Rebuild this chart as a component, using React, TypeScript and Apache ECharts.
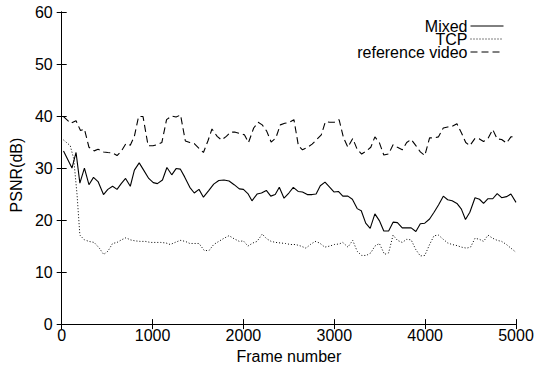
import React, { useEffect, useRef } from "react";
import * as echarts from "echarts";

const xTicks = [0, 1000, 2000, 3000, 4000, 5000];
const yTicks = [0, 10, 20, 30, 40, 50, 60];

const mixedFrames = [20,113,158,200,250,300,350,400,460,508,560,609,655,703,755,800,853,902,958,1008,1053,1109,1158,1211,1259,1305,1353,1410,1459,1511,1560,1620,1673,1729,1786,1842,1898,1955,2000,2049,2094,2150,2199,2252,2301,2350,2395,2447,2500,2549,2602,2650,2703,2756,2800,2846,2898,2951,2996,3045,3094,3150,3199,3252,3297,3346,3395,3447,3496,3545,3598,3647,3695,3748,3797,3846,3898,3947,3996,4049,4098,4147,4200,4248,4297,4350,4399,4444,4492,4549,4598,4643,4692,4744,4793,4842,4895,4944,5000];
const mixedPSNR = [33.3,30,33,27.1,30,26.8,28.2,27.4,24.9,25.9,26.5,25.9,27,28,26.5,29.6,31,29.6,28,27.2,27,27.7,30.1,28.7,29.9,29.8,28.3,26.3,25.2,25.9,24.4,25.7,26.9,27.6,27.7,27.5,26.8,26,25.9,25.1,23.7,25,25.2,25.7,24.6,24.9,26.3,24.2,25.2,26.3,25.5,25.4,24.9,24.9,25,26.6,27.3,26.3,25.4,25.5,24.6,24.6,24,22.2,21.8,19.4,18.4,21.2,19.9,17.9,17.9,19.6,19.5,18.5,18.5,18.5,17.8,19.3,19.4,20.2,21.5,22.9,24.6,23.9,23.7,23.2,22.1,20.1,21.5,24.3,24,23.2,24.1,24.1,25.1,24.3,24.5,25,23.4];

const tcpFrames = [20,94,132,169,200,250,300,357,414,462,508,560,609,658,707,755,808,865,921,977,1034,1090,1147,1195,1248,1305,1361,1410,1459,1511,1571,1624,1673,1729,1786,1842,1898,1955,2000,2049,2105,2150,2207,2256,2305,2357,2406,2462,2519,2575,2632,2688,2737,2789,2838,2895,2951,3000,3053,3094,3150,3203,3252,3301,3353,3402,3447,3496,3553,3598,3647,3695,3748,3797,3846,3898,3947,3996,4049,4098,4147,4200,4248,4297,4350,4399,4455,4500,4549,4598,4643,4692,4744,4793,4842,4895,4944,5000];
const tcpPSNR = [35.4,34.3,31.8,24.9,17.1,16.2,15.9,15.7,14.6,13.4,14,15.5,15.7,16.2,16.6,16.2,16,15.9,15.9,15.7,15.7,15.7,15.6,15.3,15.7,16.1,15.9,15.5,15.5,15.5,14.1,14.2,15.3,15.9,16.5,17,16.4,15.9,16,15,15.6,15.9,17.3,16.4,15.9,15.7,15.6,15.5,15.3,15.3,15,14.6,15.3,15.9,15.6,14.8,15,15.3,15.4,15.7,14.8,16.1,14,13.2,13.2,13.7,15,15.5,13.4,13.7,17.1,16.1,15.7,16.3,16.2,14.3,13.1,13.2,15.3,17,17.1,16.3,15.6,15.3,15.1,14.8,14.6,14.8,16.5,16.3,15.9,17.1,16.5,16.1,15.9,15.3,14.6,13.8];

const refFrames = [20,100,158,207,250,300,357,400,460,508,560,609,658,707,755,800,846,895,951,1004,1053,1102,1154,1211,1259,1308,1361,1410,1459,1511,1560,1609,1654,1711,1759,1812,1861,1910,1966,2011,2056,2113,2162,2207,2256,2305,2357,2406,2455,2508,2556,2605,2650,2707,2756,2808,2857,2902,2951,3000,3053,3102,3150,3203,3252,3301,3353,3402,3447,3496,3545,3598,3647,3695,3748,3797,3846,3898,3947,3996,4049,4098,4147,4200,4248,4297,4350,4399,4447,4492,4549,4598,4643,4692,4744,4793,4842,4895,4944,5000];
const refPSNR = [39.9,38.6,39.1,37.2,37.5,34,33.3,33.6,33.1,33,32.9,32.4,33.3,34.7,34.4,36.1,39.9,39.9,34.3,34.3,34.5,34.9,39.3,40,39.8,40.2,35.2,34.9,34.7,33.8,33,35.2,37.5,36.1,35.4,36.1,36.9,36.9,36.6,36.4,34.9,37.7,38.8,38.3,37.1,35,35.8,38.3,38.6,38.8,39.3,34.3,33.5,34,34.6,35.5,36.4,38.9,38.8,38.8,39.3,35.8,34,35.7,33.6,32.7,33.3,34,36,34.9,32.5,32.7,34.5,34,33.5,34.9,35.5,34.3,33.1,32.4,35.8,35.8,36,37.7,37.9,38,38.5,36.8,34.9,34.3,35.7,35.6,35.1,35.7,37.4,35.6,35.5,34.8,36,36.1];

const seriesNames = ["Mixed", "TCP", "reference video"];

const FONT = "Liberation Sans, Arial, Helvetica, sans-serif";

export default function App() {
  const ref = useRef<HTMLDivElement>(null);
  useEffect(() => {
    if (!ref.current) return;
    const chart = echarts.init(ref.current, undefined, { renderer: "svg" });
    const pairs = (f: number[], v: number[]) => f.map((x, i) => [x, v[i]]);
    const tick = { show: true, inside: true, length: 5, lineStyle: { color: "#000", width: 1 } };
    const line = { show: true, lineStyle: { color: "#000", width: 1 } };
    chart.setOption({
      animation: false,
      backgroundColor: "#fff",
      textStyle: { fontFamily: FONT, color: "#000" },
      grid: { left: 58, right: 26, top: 12, bottom: 35, containLabel: false },
      legend: {
        data: seriesNames,
        orient: "vertical",
        right: 38,
        top: 18,
        align: "right",
        padding: 0,
        itemGap: -3,
        itemWidth: 33,
        itemHeight: 13,
        itemStyle: { opacity: 0 },
        lineStyle: { width: 1 },
        textStyle: { fontSize: 16, lineHeight: 13, color: "#000", fontFamily: FONT, padding: [0, -2, 0, 0] },
        selectedMode: false,
      },
      xAxis: [
        {
          type: "value",
          min: 0,
          max: 5000,
          interval: 1000,
          position: "bottom",
          name: "Frame number",
          nameLocation: "middle",
          nameGap: 14,
          nameTextStyle: { fontSize: 16, color: "#000", fontFamily: FONT },
          axisLine: line,
          axisTick: tick,
          splitLine: { show: false },
          axisLabel: { fontSize: 16, color: "#000", margin: 3, fontFamily: FONT,
            formatter: (v: number) => (xTicks.includes(v) ? String(v) : "") },
        },
        {
          type: "value",
          min: 0,
          max: 5000,
          interval: 1000,
          position: "top",
          axisLine: line,
          axisTick: tick,
          splitLine: { show: false },
          axisLabel: { show: false },
        },
      ],
      yAxis: [
        {
          type: "value",
          min: 0,
          max: 60,
          interval: 10,
          position: "left",
          name: "PSNR(dB)",
          nameLocation: "middle",
          nameGap: 36,
          nameTextStyle: { fontSize: 16, color: "#000", fontFamily: FONT, padding: [0, 14, 0, 0] },
          axisLine: line,
          axisTick: tick,
          splitLine: { show: false },
          axisLabel: { fontSize: 16, color: "#000", margin: 9, fontFamily: FONT,
            formatter: (v: number) => (yTicks.includes(v) ? String(v) : "") },
        },
        {
          type: "value",
          min: 0,
          max: 60,
          interval: 10,
          position: "right",
          axisLine: line,
          axisTick: tick,
          splitLine: { show: false },
          axisLabel: { show: false },
        },
      ],
      series: [
        {
          name: "Mixed",
          type: "line",
          data: pairs(mixedFrames, mixedPSNR),
          showSymbol: false,
          symbol: "none",
          lineStyle: { color: "#000", width: 1.1, type: "solid" },
          itemStyle: { color: "#000" },
        },
        {
          name: "TCP",
          type: "line",
          data: pairs(tcpFrames, tcpPSNR),
          showSymbol: false,
          symbol: "none",
          lineStyle: { color: "#000", width: 1, type: [1, 2] },
          itemStyle: { color: "#000" },
        },
        {
          name: "reference video",
          type: "line",
          data: pairs(refFrames, refPSNR),
          showSymbol: false,
          symbol: "none",
          lineStyle: { color: "#000", width: 1.1, type: [7, 4] },
          itemStyle: { color: "#000" },
        },
      ],
    });
    return () => chart.dispose();
  }, []);
  return (
    <div
      ref={ref}
      style={{ position: "absolute", left: 0, top: 0, width: 542, height: 369 }}
    />
  );
}
